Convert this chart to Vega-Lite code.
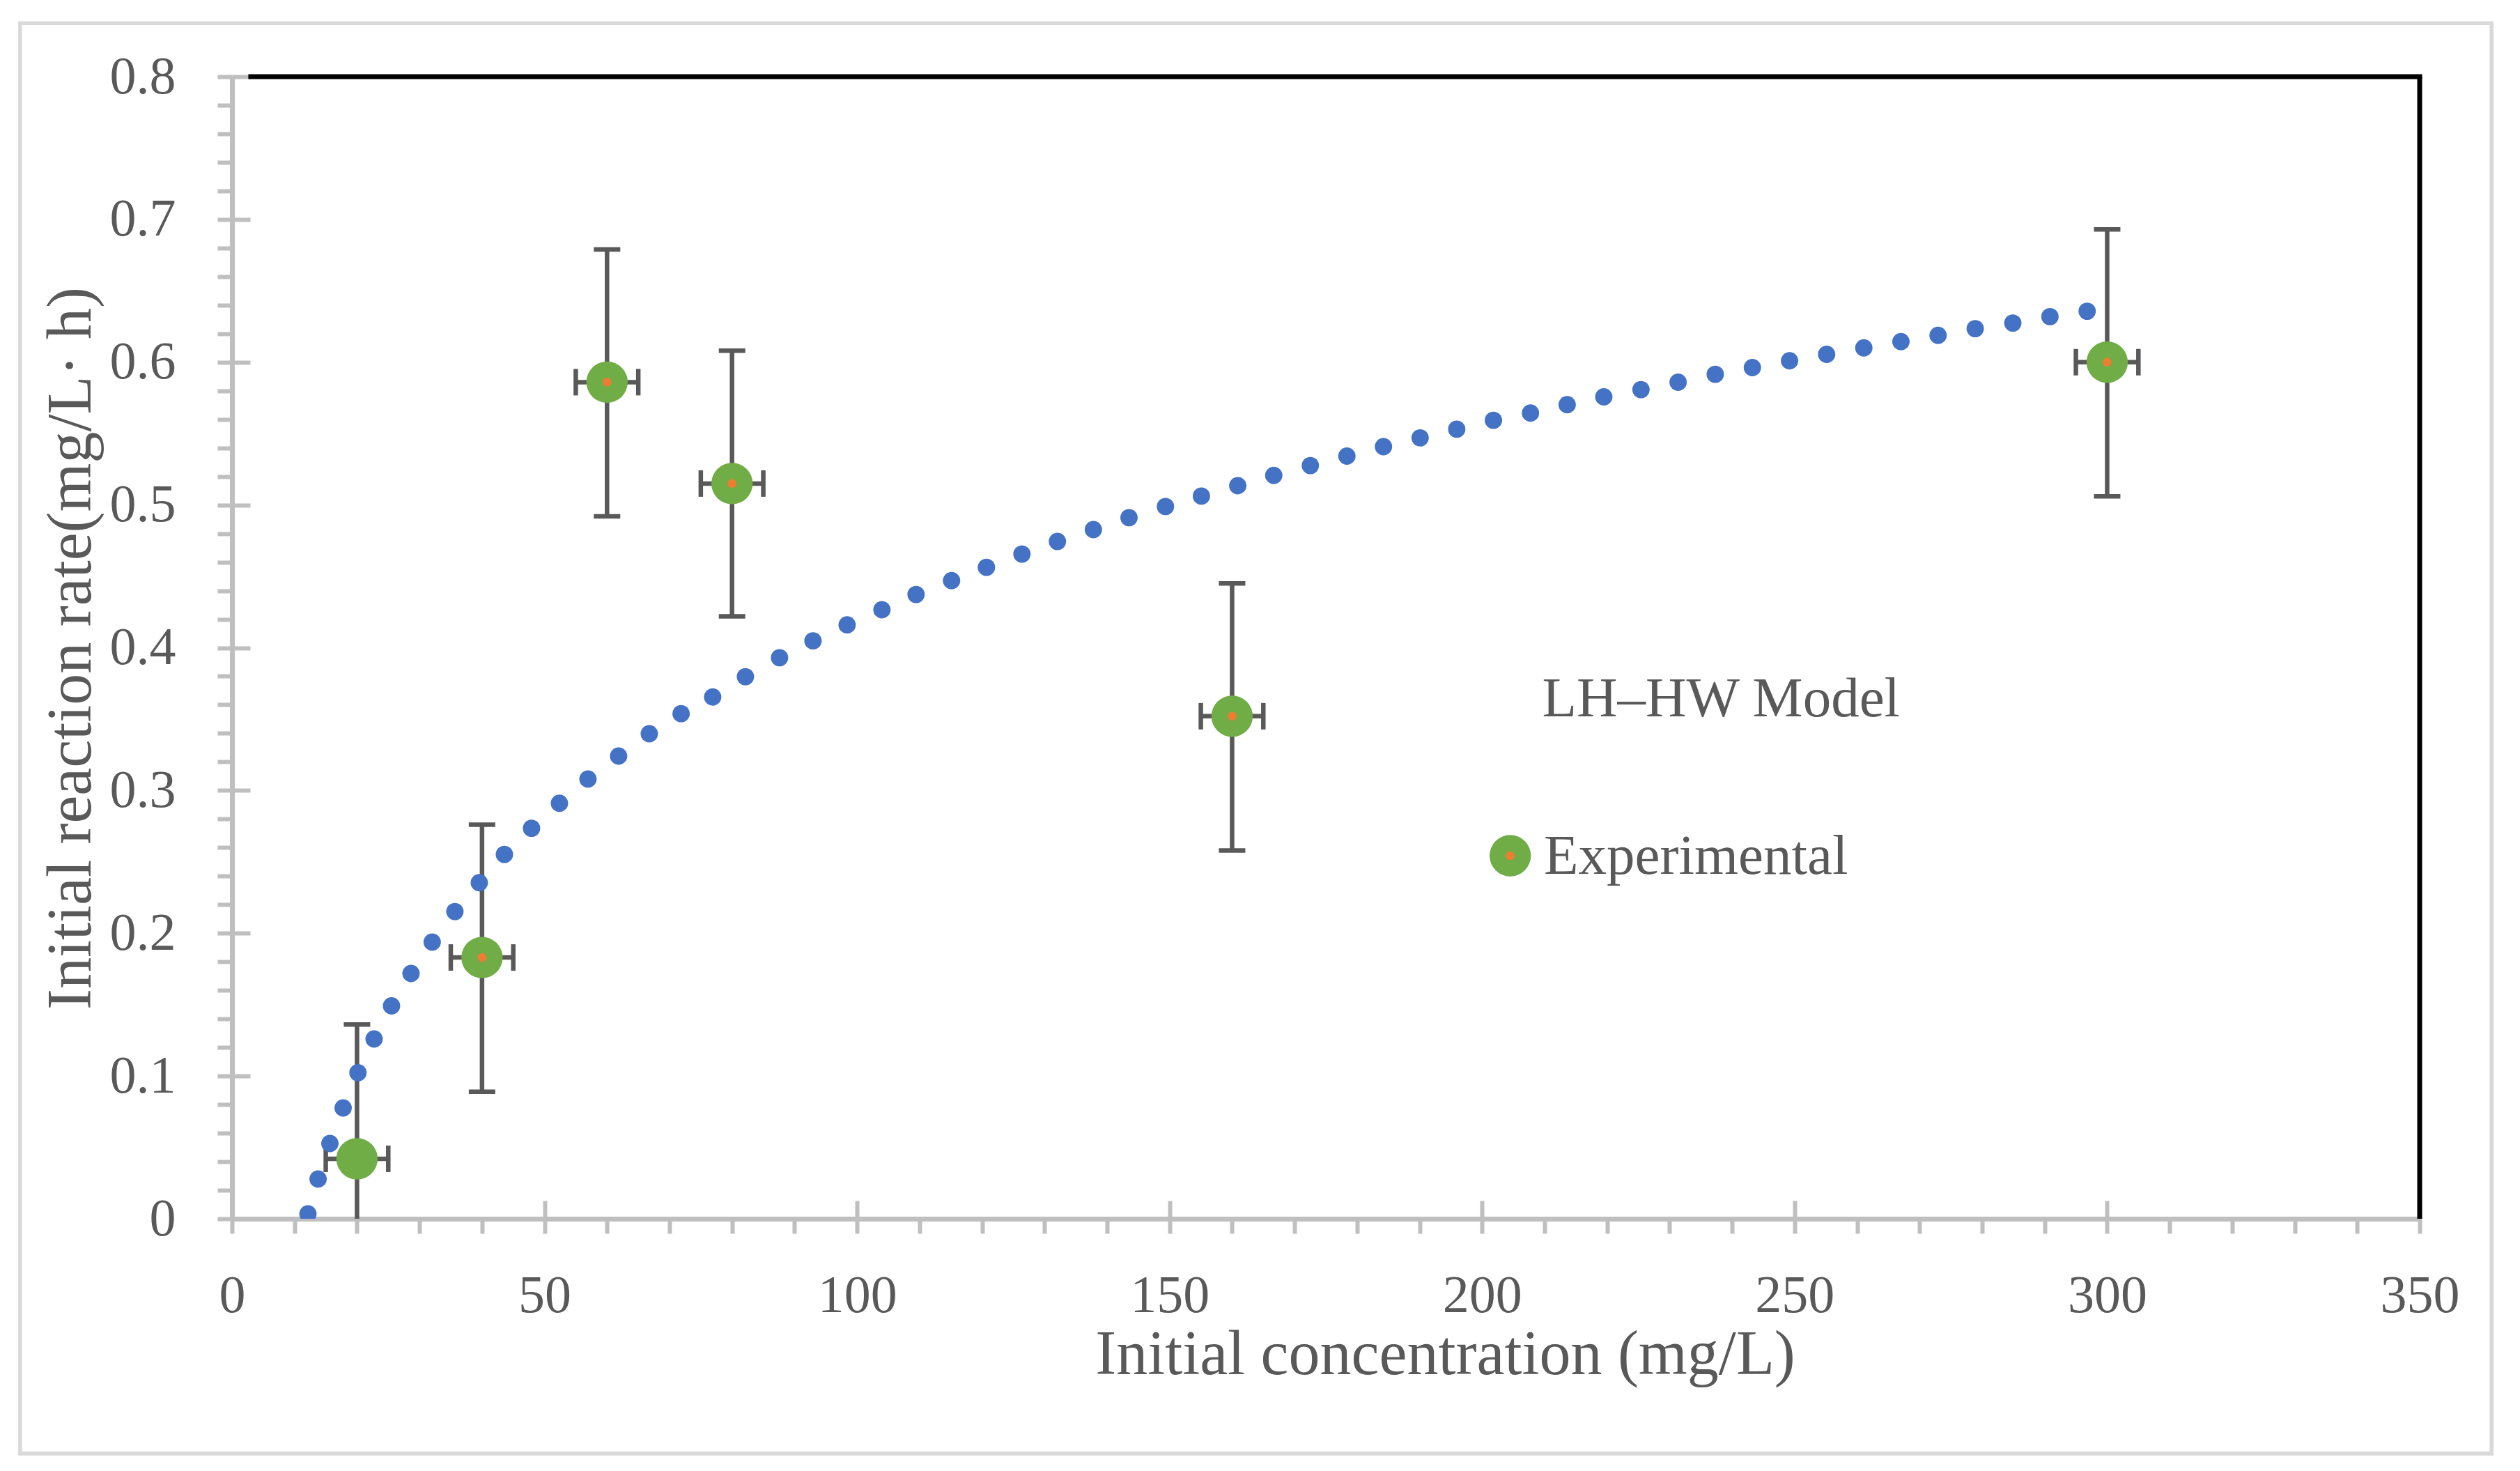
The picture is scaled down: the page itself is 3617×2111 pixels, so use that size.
{
  "$schema": "https://vega.github.io/schema/vega-lite/v6.json",
  "width": 3140,
  "height": 1639,
  "padding": {"left": 26, "top": 30, "right": 0, "bottom": 0},
  "background": "white",
  "datasets": {
    "model": [
      {"conc": 12.15, "rate": 0.0034}, {"conc": 13.77, "rate": 0.0278}, {"conc": 15.66, "rate": 0.0527},
      {"conc": 17.78, "rate": 0.0776}, {"conc": 20.15, "rate": 0.1023}, {"conc": 22.73, "rate": 0.1259},
      {"conc": 25.52, "rate": 0.1491}, {"conc": 28.64, "rate": 0.1718}, {"conc": 32.03, "rate": 0.1938},
      {"conc": 35.66, "rate": 0.2152}, {"conc": 39.56, "rate": 0.2354}, {"conc": 43.58, "rate": 0.2552},
      {"conc": 47.92, "rate": 0.2735}, {"conc": 52.38, "rate": 0.291}, {"conc": 56.95, "rate": 0.308},
      {"conc": 61.85, "rate": 0.3241}, {"conc": 66.76, "rate": 0.3397}, {"conc": 71.85, "rate": 0.3538},
      {"conc": 76.9, "rate": 0.3655}, {"conc": 82.14, "rate": 0.3797}, {"conc": 87.6, "rate": 0.393},
      {"conc": 92.95, "rate": 0.4048}, {"conc": 98.41, "rate": 0.416}, {"conc": 103.98, "rate": 0.4266},
      {"conc": 109.44, "rate": 0.4373}, {"conc": 115.12, "rate": 0.447}, {"conc": 120.7, "rate": 0.4563},
      {"conc": 126.38, "rate": 0.4656}, {"conc": 132.06, "rate": 0.4744}, {"conc": 137.81, "rate": 0.4827},
      {"conc": 143.51, "rate": 0.4911}, {"conc": 149.34, "rate": 0.4989}, {"conc": 155.09, "rate": 0.5062},
      {"conc": 160.91, "rate": 0.5135}, {"conc": 166.67, "rate": 0.5207}, {"conc": 172.52, "rate": 0.5276},
      {"conc": 178.37, "rate": 0.5342}, {"conc": 184.22, "rate": 0.5408}, {"conc": 190.08, "rate": 0.547},
      {"conc": 195.94, "rate": 0.5531}, {"conc": 201.81, "rate": 0.5593}, {"conc": 207.74, "rate": 0.5644},
      {"conc": 213.61, "rate": 0.5702}, {"conc": 219.47, "rate": 0.5757}, {"conc": 225.42, "rate": 0.5808},
      {"conc": 231.36, "rate": 0.586}, {"conc": 237.3, "rate": 0.5915}, {"conc": 243.24, "rate": 0.5962},
      {"conc": 249.19, "rate": 0.601}, {"conc": 255.12, "rate": 0.6055}, {"conc": 261.07, "rate": 0.61},
      {"conc": 267.01, "rate": 0.6144}, {"conc": 272.95, "rate": 0.6188}, {"conc": 278.89, "rate": 0.6235},
      {"conc": 284.91, "rate": 0.6274}, {"conc": 290.85, "rate": 0.6319}, {"conc": 296.8, "rate": 0.6357}
    ],
    "experimental": [
      {"conc": 20, "rate": 0.042, "rate_lo": -0.052, "rate_hi": 0.136, "conc_lo": 15, "conc_hi": 25},
      {"conc": 40, "rate": 0.183, "rate_lo": 0.089, "rate_hi": 0.276, "conc_lo": 35, "conc_hi": 45},
      {"conc": 60, "rate": 0.586, "rate_lo": 0.492, "rate_hi": 0.679, "conc_lo": 55, "conc_hi": 65},
      {"conc": 80, "rate": 0.515, "rate_lo": 0.422, "rate_hi": 0.608, "conc_lo": 75, "conc_hi": 85},
      {"conc": 160, "rate": 0.352, "rate_lo": 0.258, "rate_hi": 0.445, "conc_lo": 155, "conc_hi": 165},
      {"conc": 300, "rate": 0.6, "rate_lo": 0.506, "rate_hi": 0.693, "conc_lo": 295, "conc_hi": 305}
    ],
    "centres": [
      {"conc": 40, "rate": 0.183},
      {"conc": 60, "rate": 0.586},
      {"conc": 80, "rate": 0.515},
      {"conc": 160, "rate": 0.352},
      {"conc": 300, "rate": 0.6}
    ],
    "one": [{}]
  },
  "layer": [
    {
      "data": {"name": "one"},
      "mark": {"type": "rect", "fill": "transparent", "stroke": "#d9d9d9", "strokeWidth": 5.5},
      "encoding": {
        "x": {"datum": -33.9},
        "x2": {"datum": 361.5},
        "y": {"datum": 0.8375},
        "y2": {"datum": -0.1645}
      }
    },
    {
      "data": {"name": "one"},
      "mark": {"type": "rule", "color": "black", "strokeWidth": 7, "strokeCap": "square"},
      "encoding": {"x": {"datum": 3}, "x2": {"datum": 350}, "y": {"datum": 0.8}}
    },
    {
      "data": {"name": "one"},
      "mark": {"type": "rule", "color": "black", "strokeWidth": 7},
      "encoding": {"x": {"datum": 350}, "y": {"datum": 0}, "y2": {"datum": 0.8}}
    },
    {
      "data": {"name": "experimental"},
      "mark": {"type": "rule", "color": "#595959", "strokeWidth": 6.5, "clip": true},
      "encoding": {
        "x": {"field": "conc", "type": "quantitative"},
        "y": {"field": "rate_lo", "type": "quantitative"},
        "y2": {"field": "rate_hi"}
      }
    },
    {
      "data": {"name": "experimental"},
      "mark": {"type": "rule", "color": "#595959", "strokeWidth": 6.5},
      "encoding": {
        "x": {"field": "conc_lo", "type": "quantitative"},
        "x2": {"field": "conc_hi"},
        "y": {"field": "rate", "type": "quantitative"}
      }
    },
    {
      "data": {"name": "experimental"},
      "mark": {"type": "tick", "orient": "horizontal", "color": "#595959", "size": 38, "thickness": 6.5, "opacity": 1, "clip": true},
      "encoding": {
        "x": {"field": "conc", "type": "quantitative"},
        "y": {"field": "rate_hi", "type": "quantitative"}
      }
    },
    {
      "data": {"name": "experimental"},
      "mark": {"type": "tick", "orient": "horizontal", "color": "#595959", "size": 38, "thickness": 6.5, "opacity": 1, "clip": true},
      "encoding": {
        "x": {"field": "conc", "type": "quantitative"},
        "y": {"field": "rate_lo", "type": "quantitative"}
      }
    },
    {
      "data": {"name": "experimental"},
      "mark": {"type": "tick", "orient": "vertical", "color": "#595959", "size": 38, "thickness": 6.5, "opacity": 1},
      "encoding": {
        "x": {"field": "conc_lo", "type": "quantitative"},
        "y": {"field": "rate", "type": "quantitative"}
      }
    },
    {
      "data": {"name": "experimental"},
      "mark": {"type": "tick", "orient": "vertical", "color": "#595959", "size": 38, "thickness": 6.5, "opacity": 1},
      "encoding": {
        "x": {"field": "conc_hi", "type": "quantitative"},
        "y": {"field": "rate", "type": "quantitative"}
      }
    },
    {
      "data": {"name": "experimental"},
      "mark": {"type": "point", "filled": true, "size": 3525, "color": "#70ad47", "opacity": 1},
      "encoding": {
        "x": {"field": "conc", "type": "quantitative"},
        "y": {"field": "rate", "type": "quantitative"}
      }
    },
    {
      "data": {"name": "centres"},
      "mark": {"type": "point", "filled": true, "size": 160, "color": "#ed7d31", "opacity": 1},
      "encoding": {
        "x": {"field": "conc", "type": "quantitative"},
        "y": {"field": "rate", "type": "quantitative"}
      }
    },
    {
      "data": {"name": "model"},
      "mark": {"type": "point", "filled": true, "size": 620, "color": "#4472c4", "opacity": 1, "clip": true},
      "encoding": {
        "x": {
          "field": "conc",
          "type": "quantitative",
          "scale": {"domain": [0, 350], "nice": false, "zero": false},
          "axis": {
            "title": "Initial concentration (mg/L)",
            "values": [0, 10, 20, 30, 40, 50, 60, 70, 80, 90, 100, 110, 120, 130, 140, 150, 160, 170, 180, 190, 200, 210, 220, 230, 240, 250, 260, 270, 280, 290, 300, 310, 320, 330, 340, 350],
            "labelExpr": "datum.value % 50 === 0 ? datum.label : ''",
            "labelBaseline": "alphabetic",
            "labelPadding": 112,
            "tickSize": 21,
            "grid": true,
            "gridDash": [0, 1613, 26, 200],
            "gridOpacity": {"condition": {"test": "datum.value % 50 === 0", "value": 1}, "value": 0},
            "titleX": 1741,
            "titleY": 222,
            "titleAlign": "center",
            "titleAnchor": null,
            "titleBaseline": "alphabetic"
          }
        },
        "y": {
          "field": "rate",
          "type": "quantitative",
          "scale": {"domain": [0, 0.8], "nice": false, "zero": false},
          "axis": {
            "title": "Initial reaction rate(mg/L· h)",
            "values": [0, 0.02, 0.04, 0.06, 0.08, 0.1, 0.12, 0.14, 0.16, 0.18, 0.2, 0.22, 0.24, 0.26, 0.28, 0.3, 0.32, 0.34, 0.36, 0.38, 0.4, 0.42, 0.44, 0.46, 0.48, 0.5, 0.52, 0.54, 0.56, 0.58, 0.6, 0.62, 0.64, 0.66, 0.68, 0.7, 0.72, 0.74, 0.76, 0.78, 0.8],
            "labelExpr": "abs(datum.value * 10 - round(datum.value * 10)) < 0.000001 ? toString(round(datum.value * 10) / 10) : ''",
            "labelPadding": 60,
            "tickSize": 21,
            "grid": true,
            "gridDash": [26, 5000],
            "gridOpacity": {"condition": {"test": "abs(datum.value * 10 - round(datum.value * 10)) < 0.000001", "value": 1}, "value": 0},
            "titleX": -204,
            "titleY": 820,
            "titleAngle": 270,
            "titleAlign": "center",
            "titleAnchor": null,
            "titleBaseline": "alphabetic"
          }
        }
      }
    },
    {
      "data": {"name": "one"},
      "mark": {"type": "text", "align": "left", "baseline": "alphabetic", "fontSize": 81, "color": "#595959"},
      "encoding": {"x": {"datum": 209.6}, "y": {"datum": 0.3521}, "text": {"value": "LH–HW Model"}}
    },
    {
      "data": {"name": "one"},
      "mark": {"type": "text", "align": "left", "baseline": "alphabetic", "fontSize": 81, "color": "#595959"},
      "encoding": {"x": {"datum": 209.9}, "y": {"datum": 0.2416}, "text": {"value": "Experimental"}}
    },
    {
      "data": {"name": "one"},
      "mark": {"type": "point", "filled": true, "size": 3525, "color": "#70ad47", "opacity": 1},
      "encoding": {"x": {"datum": 204.5}, "y": {"datum": 0.2543}}
    },
    {
      "data": {"name": "one"},
      "mark": {"type": "point", "filled": true, "size": 160, "color": "#ed7d31", "opacity": 1},
      "encoding": {"x": {"datum": 204.5}, "y": {"datum": 0.2543}}
    }
  ],
  "config": {
    "font": "Liberation Serif",
    "view": {"stroke": null},
    "axis": {
      "domainColor": "#bfbfbf",
      "domainWidth": 7,
      "tickColor": "#bfbfbf",
      "tickWidth": 6,
      "gridColor": "#bfbfbf",
      "gridWidth": 6,
      "labelFont": "Liberation Serif",
      "labelFontSize": 76,
      "labelColor": "#595959",
      "labelOverlap": false,
      "labelFlush": false,
      "labelBound": false,
      "titleFont": "Liberation Serif",
      "titleFontSize": 90,
      "titleFontWeight": "normal",
      "titleColor": "#595959",
      "zindex": 1
    }
  }
}
